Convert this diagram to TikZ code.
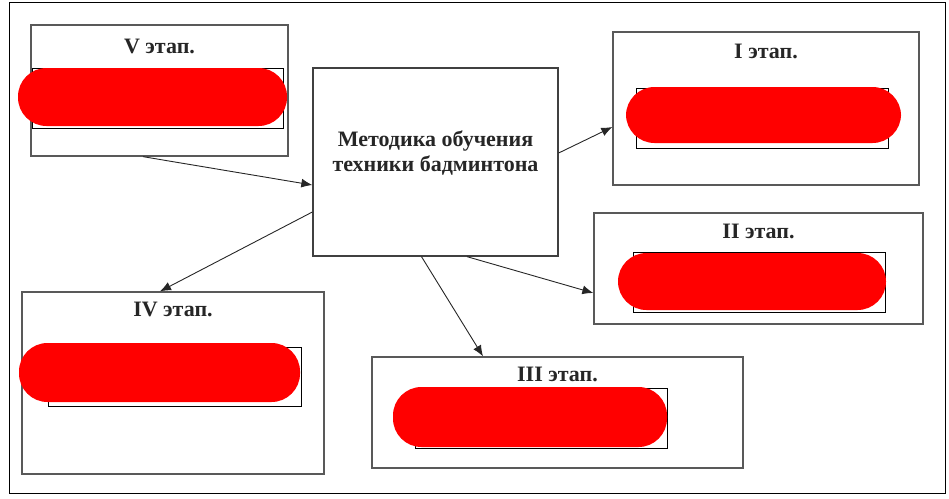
\documentclass[tikz,border=0pt]{standalone}
\usepackage{fontspec}
\setmainfont{Liberation Serif}
\usetikzlibrary{arrows.meta}

\begin{document}
\begin{tikzpicture}[x=1pt, y=-1pt,
    stage/.style={draw=black!65, line width=1.3pt, minimum width=#1},
    inbox/.style={draw=black, line width=0.9pt, minimum width=252pt, minimum height=60pt},
    title/.style={font=\fontsize{22}{25}\selectfont\bfseries, text=black!85},
    blot/.style={fill=red, rounded corners=28.5pt},
    link/.style={-{Latex[length=11pt, width=9pt]}, line width=0.9pt, draw=black!85}]
  \useasboundingbox (0,0) rectangle (949,498);
  \draw[line width=1pt] (9,2) rectangle (945,493);

  % central box
  \node[stage=245pt, minimum height=188pt, draw=black!75] (method) at (435.5,162) {};
  \node[title, align=center] (mtext) at ([yshift=9pt]method.center)
    {Методика обучения\\техники бадминтона};

  % stage boxes
  \node[stage=306pt, minimum height=153pt] (st1) at (766,108.5) {};
  \node[stage=329pt, minimum height=111pt] (st2) at (758.5,268.5) {};
  \node[stage=371pt, minimum height=111pt] (st3) at (557.5,412.5) {};
  \node[stage=302pt, minimum height=182pt] (st4) at (173,383) {};
  \node[stage=257pt, minimum height=131pt] (st5) at (159.5,90.5) {};

  \node[title] (t1) at ([yshift=-20pt]st1.north) {I этап.};
  \node[title] (t2) at ([yshift=-19pt]st2.north) {II этап.};
  \node[title] (t3) at ([yshift=-18pt]st3.north) {III этап.};
  \node[title] (t4) at ([yshift=-18pt]st4.north) {IV этап.};
  \node[title] (t5) at ([yshift=-22pt]st5.north) {V этап.};

  % inner boxes
  \node[inbox] (in1) at (762,118) {};
  \node[inbox] (in2) at (759,282) {};
  \node[inbox] (in3) at (541,418) {};
  \node[inbox, minimum width=253pt, minimum height=59pt] (in4) at (174.5,376.5) {};
  \node[inbox, minimum width=251pt] (in5) at (157.5,98) {};

  % red marks
  \fill[blot] (626,87) rectangle (901,143);
  \fill[blot] (618,253) rectangle (886,310);
  \fill[blot] (393,387) rectangle (667,447);
  \fill[blot] (19,343) rectangle (300,402);
  \fill[blot] (18,68) rectangle (287,126);

  % arrows
  \draw[link] ([xshift=-16.5pt]st5.south) -- ([yshift=-23pt]method.west);
  \draw[link] ([yshift=9pt]method.east) -- ([yshift=-18.5pt]st1.west);
  \draw[link] ([yshift=-50pt]method.west) -- ([xshift=-13pt]st4.north);
  \draw[link] ([xshift=-14pt]method.south) -- ([xshift=-74.5pt]st3.north);
  \draw[link] ([xshift=31.5pt]method.south) -- ([yshift=-24.5pt]st2.west);
\end{tikzpicture}
\end{document}
